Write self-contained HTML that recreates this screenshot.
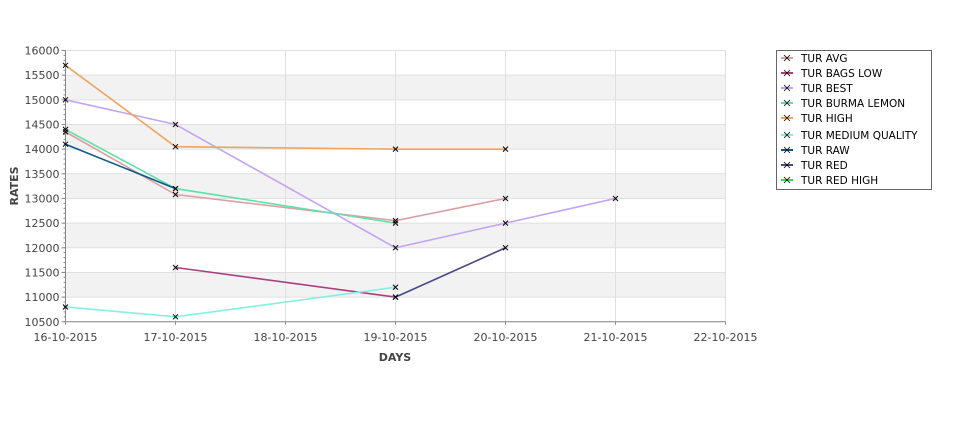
<!DOCTYPE html>
<html><head><meta charset="utf-8"><style>
html,body{margin:0;padding:0;background:#fff;}
svg{display:block;font-family:"DejaVu Sans","Liberation Sans",sans-serif;}
</style></head><body>
<svg id="s" width="975" height="429" xmlns="http://www.w3.org/2000/svg"></svg>
<script>
const s=document.getElementById('s');
const X0=65.5,DX=110,Y0=50.5,PY=24.66;
const xd=d=>X0+d*DX, yv=v=>Y0+(16000-v)/500*PY;
let h='';
for(let v=11000;v<16000;v+=1000){h+=`<rect x="${X0}" y="${yv(v+500)}" width="${6*DX}" height="${PY}" fill="#f2f2f2"/>`;}
for(let v=10500;v<=16000;v+=500){h+=`<line x1="${X0}" x2="${X0+6*DX}" y1="${yv(v)}" y2="${yv(v)}" stroke="#e0e0e0" stroke-width="1"/>`;
h+=`<line x1="${X0-4}" x2="${X0}" y1="${yv(v)}" y2="${yv(v)}" stroke="#888"/>`;
h+=`<text x="${X0-6}" y="${yv(v)+4}" font-size="11" fill="#444" text-anchor="end">${v}</text>`;}
for(let v=10500;v<16000;v+=100){h+=`<line x1="${X0-2}" x2="${X0}" y1="${yv(v)}" y2="${yv(v)}" stroke="#888"/>`;}
const days=['16-10-2015','17-10-2015','18-10-2015','19-10-2015','20-10-2015','21-10-2015','22-10-2015'];
days.forEach((d,i)=>{if(i>0)h+=`<line x1="${xd(i)}" x2="${xd(i)}" y1="${Y0}" y2="${yv(10500)}" stroke="#e0e0e0"/>`;
h+=`<line x1="${xd(i)}" x2="${xd(i)}" y1="${yv(10500)}" y2="${yv(10500)+3}" stroke="#888"/>`;
h+=`<text x="${xd(i)}" y="341" font-size="11" fill="#444" text-anchor="middle">${d}</text>`;});
h+=`<line x1="${X0}" x2="${X0}" y1="${Y0}" y2="${yv(10500)}" stroke="#888"/>`;
h+=`<line x1="${X0}" x2="${X0+6*DX}" y1="${yv(10500)}" y2="${yv(10500)}" stroke="#888"/>`;
h+=`<text x="395" y="361" font-size="11" font-weight="bold" fill="#444" text-anchor="middle">DAYS</text>`;
h+=`<text transform="translate(18,186) rotate(-90)" font-size="11" font-weight="bold" fill="#444" text-anchor="middle">RATES</text>`;
const ser=[
['TUR AVG','#dba0a4',[[0,14350],[1,13080],[3,12550],[4,13000]]],
['TUR BAGS LOW','#a84080',[[1,11600],[3,11000]]],
['TUR BEST','#c4a4f4',[[0,15000],[1,14500],[3,12000],[4,12500],[5,13000]]],
['TUR BURMA LEMON','#60e0a8',[[0,14400],[1,13200],[3,12500]]],
['TUR HIGH','#f0a460',[[0,15700],[1,14050],[3,14000],[4,14000]]],
['TUR MEDIUM QUALITY','#84f0e0',[[0,10800],[1,10600],[3,11200]]],
['TUR RAW','#105888',[[0,14100],[1,13200]]],
['TUR RED','#484888',[[3,11000],[4,12000]]],
['TUR RED HIGH','#30e040',[]]];
const X=(x,y)=>`<path d="M${x-2.5} ${y-2.5}L${x+2.5} ${y+2.5}M${x-2.5} ${y+2.5}L${x+2.5} ${y-2.5}" stroke="#000" stroke-width="1"/>`;
ser.forEach(([n,c,p])=>{if(p.length)h+=`<polyline fill="none" stroke="${c}" stroke-width="1.6" points="${p.map(q=>xd(q[0])+','+yv(q[1])).join(' ')}"/>`;});
ser.forEach(([n,c,p])=>{p.forEach(q=>h+=X(xd(q[0]),yv(q[1])));});
h+=`<rect x="776.5" y="50.5" width="155" height="139" fill="#fff" stroke="#666"/>`;
ser.forEach(([n,c],i)=>{const y=i==5?135:58+i*15+(i>5?2:0);
h+=`<line x1="781" x2="793" y1="${y}" y2="${y}" stroke="${c}" stroke-width="2"/>`;
h+=`<path d="M784 ${y-3}L790 ${y+3}M784 ${y+3}L790 ${y-3}" stroke="#000" stroke-width="0.8"/>`;
h+=`<text x="801" y="${y+4}" font-size="10.5" fill="#000">${n}</text>`;});
s.innerHTML=h;
</script>
</body></html>
